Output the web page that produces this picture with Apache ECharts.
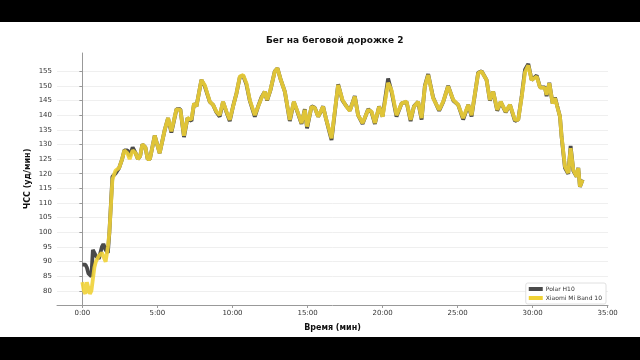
<!DOCTYPE html>
<html>
<head>
<meta charset="utf-8">
<script src="https://cdn.jsdelivr.net/npm/echarts@6/dist/echarts.min.js"></script>
<style>
html,body{margin:0;padding:0;background:#000;width:640px;height:360px;overflow:hidden;}
#chart{position:absolute;left:0;top:22px;width:640px;height:315px;}
</style>
</head>
<body>
<div id="chart"></div>
<script>
// time in minutes
const timeMin = [0,0.1,0.2,0.3,0.4,0.5,0.6,0.7,0.8,0.9,1.1,1.3,1.4,1.55,1.7,1.8,2.0,2.2,2.45,2.65,2.8,3.0,3.15,3.35,3.55,3.7,3.85,4.0,4.2,4.35,4.5,
4.82,5.15,5.49,5.71,5.93,6.27,6.53,6.77,7.0,7.27,7.44,7.6,7.93,8.15,8.49,8.71,8.93,9.15,9.37,9.6,9.82,10.04,10.27,10.49,10.71,10.93,11.15,11.49,11.71,11.93,12.15,12.31,12.53,12.82,13.0,13.22,13.49,13.82,14.09,14.37,14.6,14.82,14.97,15.27,15.49,15.71,15.87,16.04,16.22,16.6,16.75,17.04,17.33,17.6,17.82,18.15,18.37,18.67,19.04,19.27,19.49,19.77,20.0,20.37,20.6,20.93,21.27,21.6,21.87,22.09,22.37,22.6,22.82,23.04,23.37,23.77,24.04,24.37,24.71,25.04,25.37,25.71,25.93,26.37,26.6,26.93,27.15,27.37,27.64,27.87,28.2,28.49,28.82,29.04,29.27,29.49,29.71,29.93,30.27,30.49,30.82,30.93,31.11,31.33,31.49,31.64,31.82,31.93,32.15,32.37,32.53,32.71,32.93,33.04,33.15,33.33];
const polarH10 = [89,89,89,88,86,86,85,94,94,92,91,95,96,94,93,100,119,120,122,125,128,128,126,129,127,125,126,130,129,125,125,
133,127,135,139,134,142,142,132.5,139,138,144,143,152,150,144.5,143.5,141,139.5,144.5,141,138,143,147.5,153,153.5,150.5,145,139.5,143,146,148,145,148.5,155,156,152,148,138,144.5,140.5,137,142,135.5,143,142.5,139.5,141,143,139,131.5,138,150.5,145,143,141.5,146.5,140,137,142,141,137,143,139.5,152.5,148,139.5,144,144.5,138,143,144.5,138.5,150,154,146,141.5,144.5,150,145,143.5,138.5,143.5,139.5,154.5,155,152,145,148,141.5,144.5,141,143.5,138,138.5,146.5,155.5,157.5,152,153.5,149.5,149.5,146.5,151,144,146,143,139.5,132.5,122,120,129.5,121,119,122,115.5,118];
const xiaomiMiBand10 = [83,80,79,83,81,79,80,84,88,90,92,93,93,90,95,100,118,121,122,125,128,127,125,128,127,125,126,130,129,125,125,
133,127,135,139,134.5,142,141.8,133,139,138.5,144,143,152,150.3,144.6,143.5,141.2,140,144.6,141.2,138.4,142.9,147.5,153.2,153.7,150.9,145.2,140,142.9,145.8,148,145.2,148.6,154.9,156,152,148,138.4,144.6,140.7,137.3,141.8,136.1,142.9,142.4,139.5,141.2,142.9,139,132.1,138.4,150.3,145.2,142.9,141.5,146.3,140,137.3,141.8,141.2,137.3,142.9,139.5,151,148.5,140,144,144.6,138.4,142.9,144.6,139,149.8,153.7,145.8,141.8,144.6,149.8,145.2,143.5,139,143.5,140,154.3,154.9,152,145.2,148,141.8,144.6,141.2,143.5,138.4,138.4,146.3,154.6,157,152,153.2,149.5,149.2,146.9,150.9,144,145.8,142.9,139.5,132.7,122.5,120.2,128.7,121.3,119,121.9,115.6,117.9];
const xTicks = [0,5,10,15,20,25,30,35];
const yTicks = [80,85,90,95,100,105,110,115,120,125,130,135,140,145,150,155];

const pairs = (ys) => timeMin.map((t, i) => [t, ys[i]]);
const FONT = 'DejaVu Sans';
const chart = echarts.init(document.getElementById('chart'), null, {renderer: 'canvas'});
chart.setOption({
  backgroundColor: '#ffffff',
  animation: false,
  title: {
    text: 'Бег на беговой дорожке 2',
    left: 261, top: 9,
    textStyle: {fontFamily: FONT, fontSize: 9, fontWeight: 'bold', color: '#111'}
  },
  legend: {
    orient: 'vertical',
    right: 34, top: 261,
    itemWidth: 14, itemHeight: 4, itemGap: 3,
    padding: [3, 4, 3, 3],
    borderColor: '#d8d8d8', borderWidth: 0.8, borderRadius: 2,
    backgroundColor: '#fff',
    icon: 'rect',
    textStyle: {fontFamily: FONT, fontSize: 6, color: '#333', padding: [0, 0, 0, -2]},
    data: ['Polar H10', 'Xiaomi Mi Band 10']
  },
  grid: {left: 57, right: 32, top: 31, bottom: 32, containLabel: false},
  xAxis: {
    type: 'value', min: -1.69, max: 35.02,
    name: 'Время (мин)', nameLocation: 'middle', nameGap: 19,
    nameTextStyle: {fontFamily: FONT, fontSize: 8, fontWeight: 'bold', color: '#111'},
    axisLine: {show: true, lineStyle: {color: '#999', width: 1}},
    axisTick: {show: true, length: 3, customValues: xTicks, lineStyle: {color: '#999'}},
    axisLabel: {customValues: xTicks, margin: 5, fontFamily: FONT, fontSize: 7, color: '#333',
      formatter: v => v + ':00'},
    splitLine: {show: false}
  },
  yAxis: {
    type: 'value', min: 75.2, max: 161.2,
    name: 'ЧСС (уд/мин)', nameLocation: 'middle', nameGap: 25, nameMoveOverlap: false,
    nameTextStyle: {fontFamily: FONT, fontSize: 8, fontWeight: 'bold', color: '#111'},
    axisLine: {show: true, lineStyle: {color: '#999', width: 1}},
    axisTick: {show: true, length: 3, customValues: yTicks, lineStyle: {color: '#999'}},
    axisLabel: {customValues: yTicks, margin: 5, fontFamily: FONT, fontSize: 7, color: '#333'},
    splitLine: {show: true, lineStyle: {color: '#ebebeb', width: 0.8}}
  },
  series: [
    {name: 'Polar H10', type: 'line', data: pairs(polarH10), showSymbol: false,
      color: '#4a4a4a', lineStyle: {width: 3.8, color: '#4a4a4a'}, z: 2},
    {name: 'Xiaomi Mi Band 10', type: 'line', data: pairs(xiaomiMiBand10), showSymbol: false,
      color: '#f0d236', lineStyle: {width: 3.8, color: '#f0d236', opacity: 0.9}, z: 3}
  ]
});
</script>
</body>
</html>
